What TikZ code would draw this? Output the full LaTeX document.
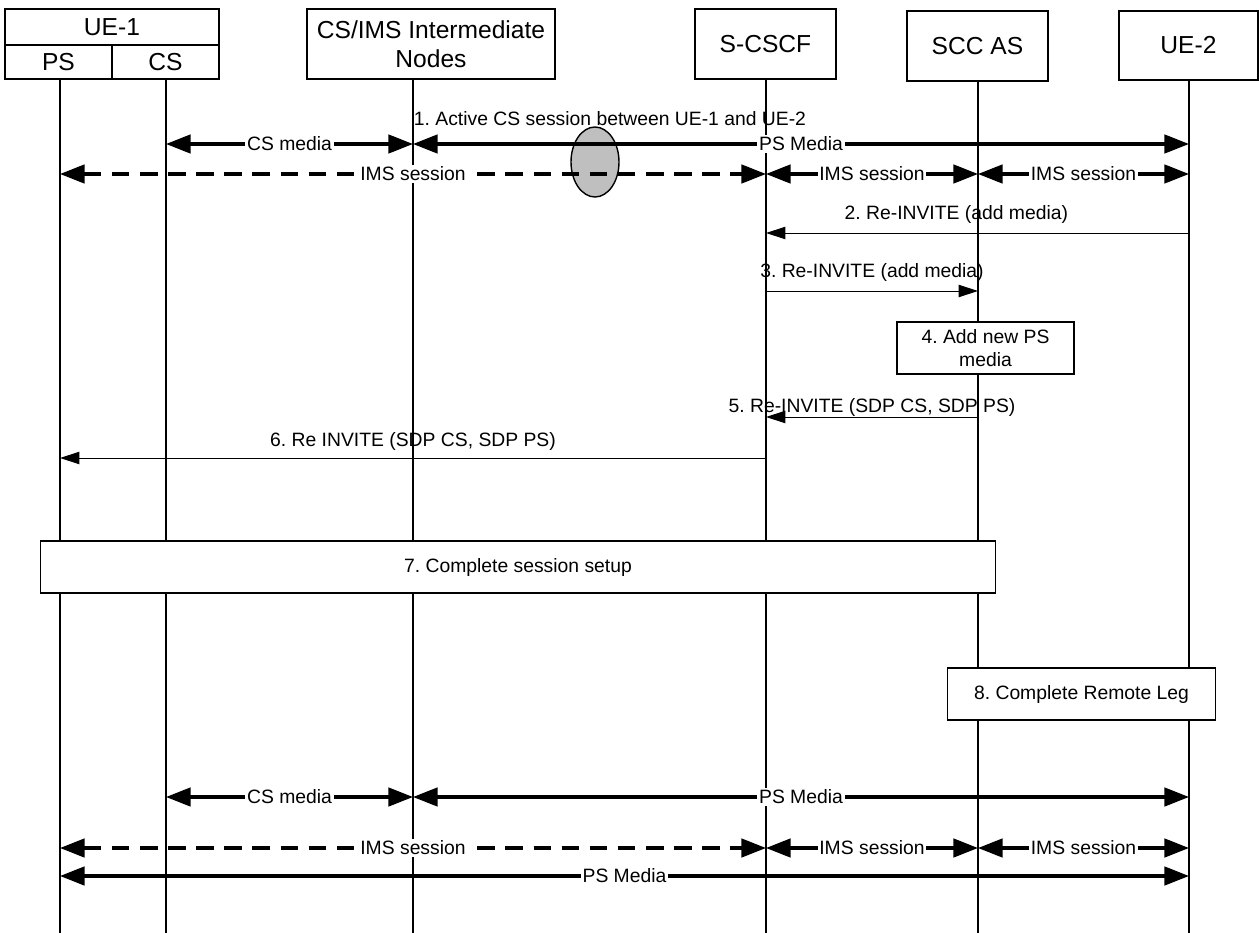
\documentclass[tikz,border=0pt]{standalone}
\usepackage{fontspec}
\setmainfont{Liberation Sans}
\usetikzlibrary{arrows.meta, positioning}
\frenchspacing

\begin{document}
\begin{tikzpicture}[
    x=0.02cm, y=-0.02cm,
    head/.style={draw, line width=0.6pt, fill=white, inner sep=0pt, align=center, font=\fontsize{14}{16.5}\selectfont},
    life/.style={line width=0.8pt},
    media/.style={{Triangle[length=14pt,width=10.5pt]}-{Triangle[length=14pt,width=10.5pt]}, line width=1.8pt},
    imsdash/.style={media, dash pattern=on 10pt off 6pt},
    msg/.style={-{Triangle[length=11pt,width=7pt]}, line width=0.55pt},
    lbl/.style={fill=white, inner sep=1pt, font=\fontsize{11}{13}\selectfont},
    msglbl/.style={inner sep=0pt, font=\fontsize{11}{13}\selectfont},
    note/.style={draw, line width=0.6pt, fill=white, inner sep=0pt, align=center, font=\fontsize{11}{13.5}\selectfont}
]
\useasboundingbox (0,0) rectangle (1259,933);

\node[head, minimum width=4.28cm, minimum height=0.72cm] (ue1) at (112,27) {UE-1};
\node[head, minimum width=2.14cm, minimum height=0.68cm] (ue1ps) at (58.5,62) {PS};
\node[head, minimum width=2.14cm, minimum height=0.68cm] (ue1cs) at (165.5,62) {CS};
\node[head, minimum width=4.96cm, minimum height=1.4cm] (ims) at (431,44) {CS/IMS Intermediate\\Nodes};
\node[head, minimum width=2.82cm, minimum height=1.4cm] (scscf) at (765.5,44) {S-CSCF};
\node[head, minimum width=2.82cm, minimum height=1.4cm] (sccas) at (977.5,46) {SCC AS};
\node[head, minimum width=2.78cm, minimum height=1.38cm] (ue2) at (1188.5,45.5) {UE-2};

\coordinate (psl) at (60,79);
\coordinate (csl) at (166,79);
\coordinate (imsl) at (413,79);
\coordinate (scscfl) at (766,79);
\coordinate (sccasl) at (978,81);
\coordinate (ue2l) at (1189,80);
\coordinate (bot) at (0,933);

\foreach \l in {psl, csl, imsl, scscfl, sccasl, ue2l}
    \draw[life] (\l) -- (\l |- bot);

\coordinate (r1) at (0,144);
\coordinate (r2) at (0,174);
\coordinate (m2) at (0,233);
\coordinate (m3) at (0,291);
\coordinate (m5) at (0,417);
\coordinate (m6) at (0,458);
\coordinate (r9) at (0,797);
\coordinate (r10) at (0,848);
\coordinate (r11) at (0,876);

\node[msglbl] (step1) at (610,119) {1. Active CS session between UE-1 and UE-2};
\draw[line width=0.8pt, fill=black!25] (595,162) ellipse [x radius=24, y radius=35];

\draw[media] (csl |- r1) -- node[lbl] {CS media} (imsl |- r1);
\draw[media] (imsl |- r1) -- node[lbl] {PS Media} (ue2l |- r1);
\draw[imsdash] (psl |- r2) -- node[lbl] {IMS session} (scscfl |- r2);
\draw[media] (scscfl |- r2) -- node[lbl] {IMS session} (sccasl |- r2);
\draw[media] (sccasl |- r2) -- node[lbl] {IMS session} (ue2l |- r2);

\draw[msg] (ue2l |- m2) -- node[msglbl, above=5pt, pos=0.55] {2. Re-INVITE (add media)} (scscfl |- m2);
\draw[msg] (scscfl |- m3) -- node[msglbl, above=5pt] {3. Re-INVITE (add media)} (sccasl |- m3);

\node[note, minimum width=3.54cm, minimum height=1.04cm] (addps) at (985.5,348) {4. Add new PS\\media};

\draw[msg] (sccasl |- m5) -- node[msglbl, above=0pt] {5. Re-INVITE (SDP CS, SDP PS)} (scscfl |- m5);
\draw[msg] (scscfl |- m6) -- node[msglbl, above=4pt] {6. Re INVITE (SDP CS, SDP PS)} (psl |- m6);

\node[note, minimum width=19.12cm, minimum height=1.04cm] (setup) at (518,567) {7. Complete session setup};
\node[note, minimum width=5.36cm, minimum height=1.04cm] (remote) at (1081.5,694) {8. Complete Remote Leg};

\draw[media] (csl |- r9) -- node[lbl] {CS media} (imsl |- r9);
\draw[media] (imsl |- r9) -- node[lbl] {PS Media} (ue2l |- r9);
\draw[imsdash] (psl |- r10) -- node[lbl] {IMS session} (scscfl |- r10);
\draw[media] (scscfl |- r10) -- node[lbl] {IMS session} (sccasl |- r10);
\draw[media] (sccasl |- r10) -- node[lbl] {IMS session} (ue2l |- r10);
\draw[media] (psl |- r11) -- node[lbl] {PS Media} (ue2l |- r11);

\end{tikzpicture}
\end{document}
